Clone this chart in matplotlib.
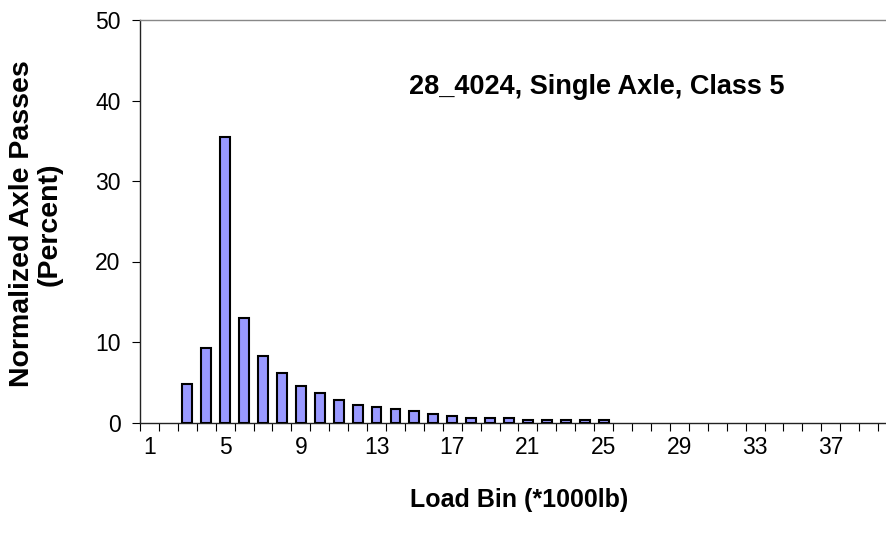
import matplotlib
matplotlib.use("Agg")
import matplotlib.pyplot as plt
import numpy as np

plt.rcParams['font.family'] = ['Liberation Sans', 'DejaVu Sans']

# Data
load_bins = list(range(1, 41))
percent = [0, 0, 4.8, 9.3, 35.5, 13.0, 8.2, 6.2, 4.5, 3.7, 2.8, 2.2, 1.9, 1.7,
           1.4, 1.1, 0.8, 0.6, 0.6, 0.6, 0.3, 0.3, 0.3, 0.3, 0.3,
           0, 0, 0, 0, 0, 0, 0, 0, 0, 0, 0, 0, 0, 0, 0]
tick_labels = [1, 5, 9, 13, 17, 21, 25, 29, 33, 37]
title_text = "28_4024, Single Axle, Class 5"
xlabel_text = "Load Bin (*1000lb)"
ylabel_text = "Normalized Axle Passes\n(Percent)"

W, H = 887, 544
fig = plt.figure(figsize=(W / 100, H / 100), dpi=100)
left, right, top, bottom = 140, 897, 20, 422.5
ax = fig.add_axes([left / W, 1 - bottom / H, (right - left) / W, (bottom - top) / H])

xs = [x for x, v in zip(load_bins, percent) if v > 0]
vs = [v for v in percent if v > 0]
ax.bar(xs, vs, width=0.52, color='#9999FF', edgecolor='black',
       linewidth=1.5, zorder=3)

ax.set_xlim(0.5, 40.5)
ax.set_ylim(0, 50)
ax.set_yticks(range(0, 51, 10))
ax.set_xticks(tick_labels)
ax.set_xticklabels([str(t) for t in tick_labels])
ax.set_xticks(np.arange(0.5, 41, 1), minor=True)
ax.tick_params(axis='x', which='major', length=0, pad=10, labelsize=16.5)
ax.tick_params(axis='x', which='minor', length=6, width=0.8, direction='out')
ax.tick_params(axis='y', length=6, width=0.8, labelsize=16.5, pad=8)

for s in ['left', 'bottom']:
    ax.spines[s].set_color('#222222')
    ax.spines[s].set_linewidth(1.0)
for s in ['top', 'right']:
    ax.spines[s].set_color('#888888')
    ax.spines[s].set_linewidth(1.0)

fig.text(597 / W, 1 - 87 / H, title_text, ha='center', va='center',
         fontsize=19.5, fontweight='bold')

fig.text(519 / W, 1 - 500 / H, xlabel_text, ha='center', va='center',
         fontsize=18, fontweight='bold')
fig.text(36 / W, 1 - 224 / H, ylabel_text, ha='center', va='center',
         rotation=90, fontsize=20.5, fontweight='bold', linespacing=1.05,
         multialignment='center')

fig.savefig("out.png", dpi=100)
